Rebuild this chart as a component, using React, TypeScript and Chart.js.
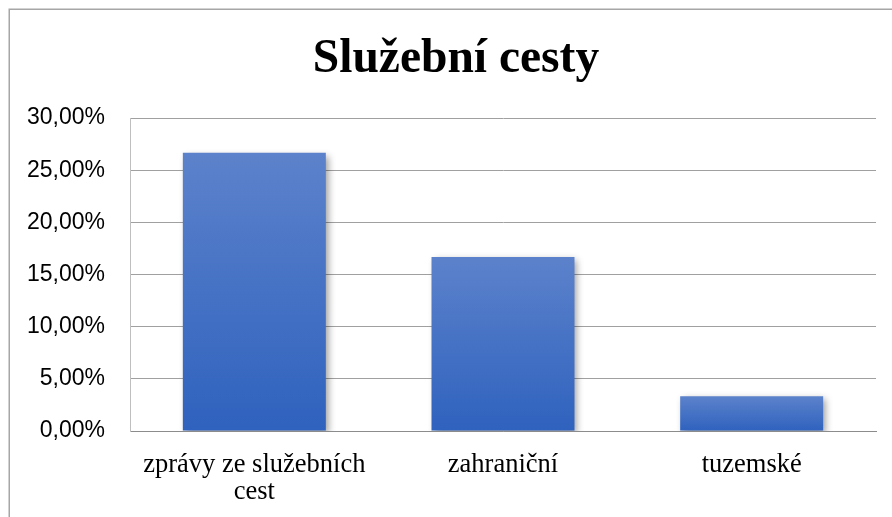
import React, { useEffect, useRef } from "react";
import { Chart, registerables } from "chart.js";

Chart.register(...registerables);

const titleText = "Služební cesty";
const categories: (string | string[])[] = [["zprávy ze služebních", "cest"], "zahraniční", "tuzemské"];
const values = [26.67, 16.67, 3.33];
const yMin = 0;
const yMax = 30;
const yStep = 5;

const formatPct = (v: number) => v.toFixed(2).replace(".", ",") + "%";

const frameTitleShadow = {
  id: "frameTitleShadow",
  beforeDraw(chart: any) {
    const ctx = chart.ctx;
    ctx.save();
    ctx.fillStyle = "#ffffff";
    ctx.fillRect(0, 0, chart.width, chart.height);
    ctx.strokeStyle = "#a6a6a6";
    ctx.lineWidth = 1.5;
    ctx.strokeRect(9.25, 9.25, chart.width + 50, chart.height + 50);
    ctx.fillStyle = "#000";
    ctx.font = "bold 47.5px 'Liberation Serif', 'Times New Roman', serif";
    ctx.textAlign = "center";
    ctx.textBaseline = "alphabetic";
    ctx.fillText(titleText, 456, 72);
    ctx.restore();
  },
  beforeDatasetDraw(chart: any) {
    const ctx = chart.ctx;
    ctx.save();
    ctx.shadowColor = "rgba(0,0,0,0.38)";
    ctx.shadowBlur = 7;
    ctx.shadowOffsetX = 3;
    ctx.shadowOffsetY = 3;
  },
  afterDatasetDraw(chart: any) {
    chart.ctx.restore();
  },
};

export default function App() {
  const ref = useRef<HTMLCanvasElement>(null);
  useEffect(() => {
    if (!ref.current) return;
    const chart = new Chart(ref.current, {
      type: "bar",
      data: {
        labels: categories,
        datasets: [
          {
            data: values,
            barPercentage: 0.575,
            categoryPercentage: 1,
            borderWidth: 0,
            backgroundColor: (c: any) => {
              const ch = c.chart;
              const y = ch.scales?.y;
              if (!y || c.raw == null) return "#4472c4";
              const top = y.getPixelForValue(c.raw);
              const base = y.getPixelForValue(0);
              if (!isFinite(top) || !isFinite(base) || top === base) return "#4472c4";
              const g = ch.ctx.createLinearGradient(0, top, 0, base);
              g.addColorStop(0, "#5c82cb");
              g.addColorStop(1, "#2f62be");
              return g;
            },
          },
        ],
      },
      options: {
        responsive: false,
        animation: false,
        layout: { padding: { left: 0, right: 16, top: 118, bottom: 0 } },
        plugins: {
          legend: { display: false },
          tooltip: { enabled: false },
          title: { display: false },
        },
        scales: {
          x: {
            grid: { display: false, drawTicks: false },
            border: { display: true, color: "#8c8c8c", width: 1 },
            ticks: {
              color: "#000",
              padding: 21,
              font: { family: "'Liberation Serif', 'Times New Roman', serif", size: 26.5, lineHeight: 1.0 },
              maxRotation: 0,
              autoSkip: false,
            },
            afterFit: (s: any) => {
              s.height = 86;
            },
          },
          y: {
            min: yMin,
            max: yMax,
            ticks: {
              stepSize: yStep,
              color: "#000",
              padding: 25,
              font: { family: "'Liberation Sans', Arial, sans-serif", size: 23 },
              callback: (v: any) => formatPct(Number(v)),
            },
            grid: { color: "#a0a0a0", lineWidth: 1, drawTicks: false },
            border: { display: true, color: "#bfbfbf", width: 1 },
            afterFit: (s: any) => {
              s.width = 130;
            },
          },
        },
      },
      plugins: [frameTitleShadow],
    } as any);
    return () => chart.destroy();
  }, []);
  return (
    <div style={{ position: "fixed", left: 0, top: 0, width: 892, height: 517 }}>
      <canvas ref={ref} width={892} height={517} style={{ display: "block" }} />
    </div>
  );
}
